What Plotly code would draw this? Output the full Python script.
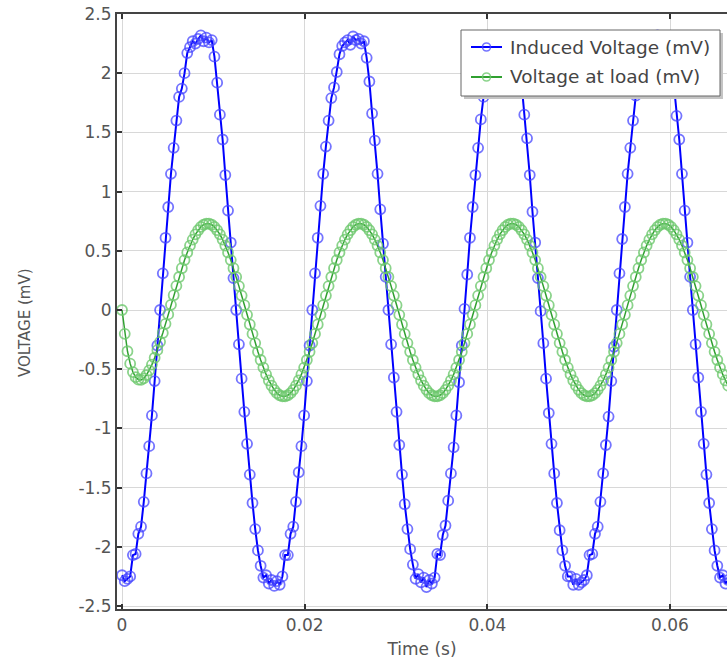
import plotly.graph_objects as go

# Sampling: 56 samples per cycle of a 60 Hz supply
LINE_FREQ_HZ = 60
SAMPLES_PER_CYCLE = 56

# Induced voltage (mV), one row per cycle
induced_voltage_mv = [
    -2.24, -2.29, -2.27, -2.25, -2.07, -2.06, -1.89, -1.83, -1.62, -1.38, -1.15, -0.89, -0.60, -0.30,
    0.00, 0.31, 0.61, 0.87, 1.15, 1.37, 1.60, 1.80, 1.87, 2.00, 2.17, 2.22, 2.27, 2.25,
    2.29, 2.32, 2.27, 2.30, 2.26, 2.28, 2.14, 1.92, 1.65, 1.44, 1.14, 0.84, 0.57, 0.27,
    0.00, -0.29, -0.58, -0.86, -1.13, -1.39, -1.63, -1.85, -2.03, -2.16, -2.26, -2.24, -2.31, -2.28,

    -2.33, -2.29, -2.32, -2.25, -2.07, -2.07, -1.89, -1.83, -1.62, -1.37, -1.15, -0.89, -0.60, -0.30,
    0.00, 0.31, 0.61, 0.88, 1.15, 1.38, 1.60, 1.79, 1.88, 2.01, 2.16, 2.23, 2.26, 2.28,
    2.24, 2.31, 2.28, 2.29, 2.25, 2.27, 2.13, 1.93, 1.66, 1.43, 1.15, 0.85, 0.56, 0.28,
    0.00, -0.29, -0.57, -0.86, -1.14, -1.39, -1.64, -1.85, -2.02, -2.15, -2.27, -2.23, -2.30, -2.26,

    -2.34, -2.28, -2.31, -2.26, -2.06, -2.07, -1.90, -1.82, -1.61, -1.38, -1.16, -0.89, -0.61, -0.30,
    0.01, 0.30, 0.61, 0.87, 1.14, 1.37, 1.61, 1.80, 1.86, 2.00, 2.18, 2.21, 2.28, 2.24,
    2.30, 2.31, 2.26, 2.29, 2.27, 2.27, 2.15, 1.91, 1.65, 1.45, 1.14, 0.83, 0.57, 0.27,
    -0.01, -0.28, -0.58, -0.87, -1.13, -1.38, -1.63, -1.86, -2.03, -2.16, -2.25, -2.25, -2.32, -2.27,

    -2.32, -2.30, -2.28, -2.24, -2.07, -2.06, -1.89, -1.83, -1.62, -1.38, -1.14, -0.90, -0.60, -0.31,
    0.00, 0.31, 0.60, 0.87, 1.15, 1.37, 1.60, 1.81, 1.87, 2.00, 2.17, 2.23, 2.27, 2.26,
    2.29, 2.32, 2.27, 2.29, 2.26, 2.28, 2.14, 1.92, 1.64, 1.44, 1.15, 0.84, 0.57, 0.28,
    0.00, -0.29, -0.57, -0.86, -1.13, -1.39, -1.63, -1.85, -2.03, -2.16, -2.26, -2.24, -2.31, -2.28,
]

# Voltage at the load (mV): start-up transient, then steady state
load_voltage_mv = [
    0.000, -0.201, -0.348, -0.453, -0.524, -0.567, -0.588, -0.590, -0.577, -0.549, -0.510, -0.461, -0.403, -0.339,
    -0.269, -0.194, -0.117, -0.037, 0.044, 0.125, 0.204, 0.279, 0.353, 0.422, 0.486, 0.544, 0.595, 0.639,
    0.674, 0.702, 0.720, 0.729, 0.729, 0.720, 0.702, 0.674, 0.639, 0.595, 0.544, 0.486, 0.422, 0.353,
    0.279, 0.202, 0.122, 0.041, -0.041, -0.122, -0.202, -0.279, -0.353, -0.422, -0.486, -0.544, -0.595, -0.639,

    -0.674, -0.702, -0.720, -0.729, -0.729, -0.720, -0.702, -0.674, -0.639, -0.595, -0.544, -0.486, -0.422, -0.353,
    -0.279, -0.202, -0.122, -0.041, 0.041, 0.122, 0.202, 0.279, 0.353, 0.422, 0.486, 0.544, 0.595, 0.639,
    0.674, 0.702, 0.720, 0.729, 0.729, 0.720, 0.702, 0.674, 0.639, 0.595, 0.544, 0.486, 0.422, 0.353,
    0.279, 0.202, 0.122, 0.041, -0.041, -0.122, -0.202, -0.279, -0.353, -0.422, -0.486, -0.544, -0.595, -0.639,

    -0.674, -0.702, -0.720, -0.729, -0.729, -0.720, -0.702, -0.674, -0.639, -0.595, -0.544, -0.486, -0.422, -0.353,
    -0.279, -0.202, -0.122, -0.041, 0.041, 0.122, 0.202, 0.279, 0.353, 0.422, 0.486, 0.544, 0.595, 0.639,
    0.674, 0.702, 0.720, 0.729, 0.729, 0.720, 0.702, 0.674, 0.639, 0.595, 0.544, 0.486, 0.422, 0.353,
    0.279, 0.202, 0.122, 0.041, -0.041, -0.122, -0.202, -0.279, -0.353, -0.422, -0.486, -0.544, -0.595, -0.639,

    -0.674, -0.702, -0.720, -0.729, -0.729, -0.720, -0.702, -0.674, -0.639, -0.595, -0.544, -0.486, -0.422, -0.353,
    -0.279, -0.202, -0.122, -0.041, 0.041, 0.122, 0.202, 0.279, 0.353, 0.422, 0.486, 0.544, 0.595, 0.639,
    0.674, 0.702, 0.720, 0.729, 0.729, 0.720, 0.702, 0.674, 0.639, 0.595, 0.544, 0.486, 0.422, 0.353,
    0.279, 0.202, 0.122, 0.041, -0.041, -0.122, -0.202, -0.279, -0.353, -0.422, -0.486, -0.544, -0.595, -0.639,
]

# Sample instants (s)
time_s = [i / (LINE_FREQ_HZ * SAMPLES_PER_CYCLE) for i in range(len(induced_voltage_mv))]

series_names = ["Induced Voltage (mV)", "Voltage at load (mV)"]
x_tick_values = [0, 0.02, 0.04, 0.06]
x_tick_labels = ["0", "0.02", "0.04", "0.06"]
y_tick_values = [2.5, 2, 1.5, 1, 0.5, 0, -0.5, -1, -1.5, -2, -2.5]
y_tick_labels = ["2.5", "2", "1.5", "1", "0.5", "0", "-0.5", "-1", "-1.5", "-2", "-2.5"]

FONT = "DejaVu Sans"
W, H = 727, 661
M_L, M_R, M_T, M_B = 117, 0, 14, 52
PLOT_W = W - M_L - M_R
PLOT_H = H - M_T - M_B

LINE_COLORS = ["#0000ff", "#30a030"]
MARKER_COLORS = ["rgba(70,70,255,0.75)", "rgba(110,200,110,0.8)"]
LINE_WIDTHS = [2, 1.5]


def px(x):
    """Horizontal pixel position -> paper fraction."""
    return (x - M_L) / PLOT_W


def py(y):
    """Vertical pixel position (from top) -> paper fraction."""
    return 1 - (y - M_T) / PLOT_H


fig = go.Figure()
for name, values, lc, mc, lw in zip(series_names, [induced_voltage_mv, load_voltage_mv],
                                    LINE_COLORS, MARKER_COLORS, LINE_WIDTHS):
    fig.add_trace(go.Scatter(
        x=time_s, y=values, mode="lines+markers", name=name,
        line=dict(color=lc, width=lw),
        marker=dict(symbol="circle-open", size=10, color=mc, line=dict(width=1.8)),
        showlegend=False,
    ))

# Legend box with a soft drop shadow, drawn on top of the plot
BOX_L, BOX_T, BOX_R, BOX_B = 461, 30, 720, 96
shapes = [
    dict(type="rect", xref="paper", yref="paper",
         x0=px(BOX_L + 3), x1=px(BOX_R + 3), y0=py(BOX_B + 3), y1=py(BOX_T + 3),
         fillcolor="#c4c4c4", line=dict(width=0), layer="above"),
    dict(type="rect", xref="paper", yref="paper",
         x0=px(BOX_L), x1=px(BOX_R), y0=py(BOX_B), y1=py(BOX_T),
         fillcolor="white", line=dict(color="#666666", width=1), layer="above"),
]
annotations = []
ROW_Y = [47, 77]
SYM_L, SYM_R = 471, 502
SYM_C = (SYM_L + SYM_R) / 2
R = 4
for name, lc, mc, ry in zip(series_names, LINE_COLORS, MARKER_COLORS, ROW_Y):
    shapes.append(dict(type="line", xref="paper", yref="paper",
                       x0=px(SYM_L), x1=px(SYM_R), y0=py(ry), y1=py(ry),
                       line=dict(color=lc, width=2), layer="above"))
    shapes.append(dict(type="circle", xref="paper", yref="paper",
                       x0=px(SYM_C - R), x1=px(SYM_C + R), y0=py(ry + R), y1=py(ry - R),
                       line=dict(color=mc, width=1.6), fillcolor="rgba(0,0,0,0)", layer="above"))
    annotations.append(dict(xref="paper", yref="paper", x=px(508), y=py(ry),
                            xanchor="left", yanchor="middle", showarrow=False,
                            text=name, font=dict(family=FONT, size=18.5, color="#444444")))

# Vertical axis title
annotations.append(dict(xref="paper", yref="paper", x=px(25), y=py(322),
                        xanchor="center", yanchor="middle", showarrow=False, textangle=-90,
                        text="VOLTAGE (mV)", font=dict(family=FONT, size=15, color="#555555")))

fig.update_layout(
    width=W, height=H,
    margin=dict(l=M_L, r=M_R, t=M_T, b=M_B, pad=0),
    paper_bgcolor="white", plot_bgcolor="white",
    font=dict(family=FONT, size=17, color="#555555"),
    showlegend=False,
    shapes=shapes,
    annotations=annotations,
)

fig.update_xaxes(
    range=[-0.00055, 0.06624],
    tickvals=x_tick_values, ticktext=x_tick_labels,
    ticks="inside", ticklen=5, tickwidth=1.5, tickcolor="#333333",
    showline=True, linecolor="#444444", linewidth=2, mirror="ticks",
    showgrid=True, gridcolor="#d8d8d8", gridwidth=1, zeroline=False,
    title=dict(text="Time (s)", font=dict(family=FONT, size=17, color="#555555"), standoff=9),
)
fig.update_yaxes(
    range=[-2.525, 2.5],
    tickvals=y_tick_values, ticktext=y_tick_labels,
    ticks="inside", ticklen=5, tickwidth=1.5, tickcolor="#333333",
    showline=True, linecolor="#444444", linewidth=2,
    showgrid=True, gridcolor="#d8d8d8", gridwidth=1, zeroline=False,
)

fig.write_html("out.html")
